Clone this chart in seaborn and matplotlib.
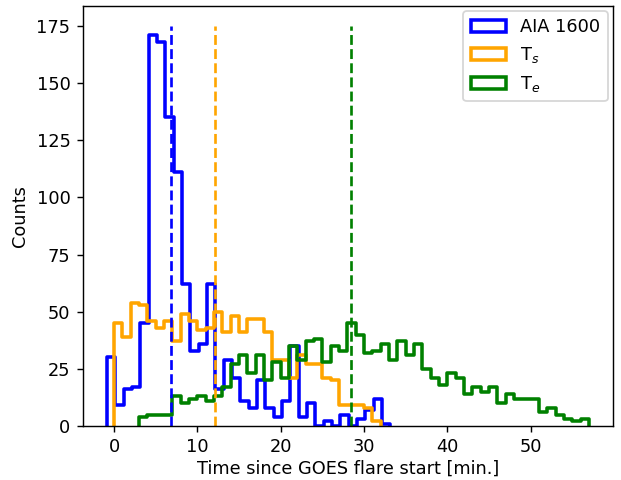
import numpy as np
import pandas as pd
import matplotlib
matplotlib.use("Agg")
import matplotlib.pyplot as plt
from matplotlib.patches import Patch
import seaborn as sns

# Histogram counts per 1-minute bin, for each timing measure
aia_counts = [30, 9, 16, 17, 45, 171, 168, 135, 111, 62, 33, 36, 62, 16, 29, 21, 11,
              8, 20, 8, 4, 11, 35, 4, 10, 0, 2, 0, 5, 0, 3, 7, 12, 1]
ts_counts = [45, 39, 54, 53, 46, 43, 46, 37, 49, 46, 42, 43, 50, 41, 48, 41, 47, 47,
             41, 29, 29, 21, 31, 27, 27, 21, 20, 9, 9, 9, 8, 2]
te_counts = [4, 5, 5, 5, 13, 10, 12, 13, 11, 13, 17, 27, 31, 23, 31, 20, 28, 21, 35,
             29, 37, 38, 28, 35, 33, 45, 40, 32, 33, 36, 29, 37, 31, 36, 25, 21, 18,
             23, 21, 14, 17, 15, 17, 10, 14, 12, 12, 12, 6, 8, 5, 3, 2, 3]

# Left edge of the first bin of each histogram [min]
aia_first_edge = -0.85
ts_first_edge = 0.0
te_first_edge = 3.0
bin_width = 1.0

# Median of each distribution [min]
medians = [6.8, 12.15, 28.45]
median_top = 175

labels = ["AIA 1600", "T$_s$", "T$_e$"]
colors = ["blue", "orange", "green"]

DPI = 128
fig = plt.figure(figsize=(621 / DPI, 480 / DPI), dpi=DPI)
ax = fig.add_axes([0.1335, 0.1125, 0.8535, 0.875])

series = [(aia_counts, aia_first_edge), (ts_counts, ts_first_edge), (te_counts, te_first_edge)]
for (counts, first), color in zip(series, colors):
    n_bins = len(counts)
    edges = first + bin_width * np.arange(n_bins + 1)
    df = pd.DataFrame({"t": 0.5 * (edges[:-1] + edges[1:]), "n": counts})
    sns.histplot(data=df, x="t", weights="n", bins=list(edges), element="step",
                 fill=False, color=color, linewidth=2, ax=ax)
    # close the step outline down to the baseline at both outer edges
    line = ax.lines[-1]
    xs, ys = line.get_data()
    line.set_data(np.r_[xs[0], xs, xs[-1]], np.r_[0.0, ys, 0.0])

for m, color in zip(medians, colors):
    ax.vlines(m, 0, median_top, colors=color, linestyles="--", linewidth=1.5)

ax.set_xlabel("Time since GOES flare start [min.]", labelpad=2)
ax.set_ylabel("Counts")
ax.set_yticks(np.arange(0, 176, 25))

handles = [Patch(facecolor="none", edgecolor=c, linewidth=2) for c in colors]
ax.legend(handles, labels, loc="upper right", borderaxespad=0.3)

fig.savefig("out.png", dpi=DPI)
